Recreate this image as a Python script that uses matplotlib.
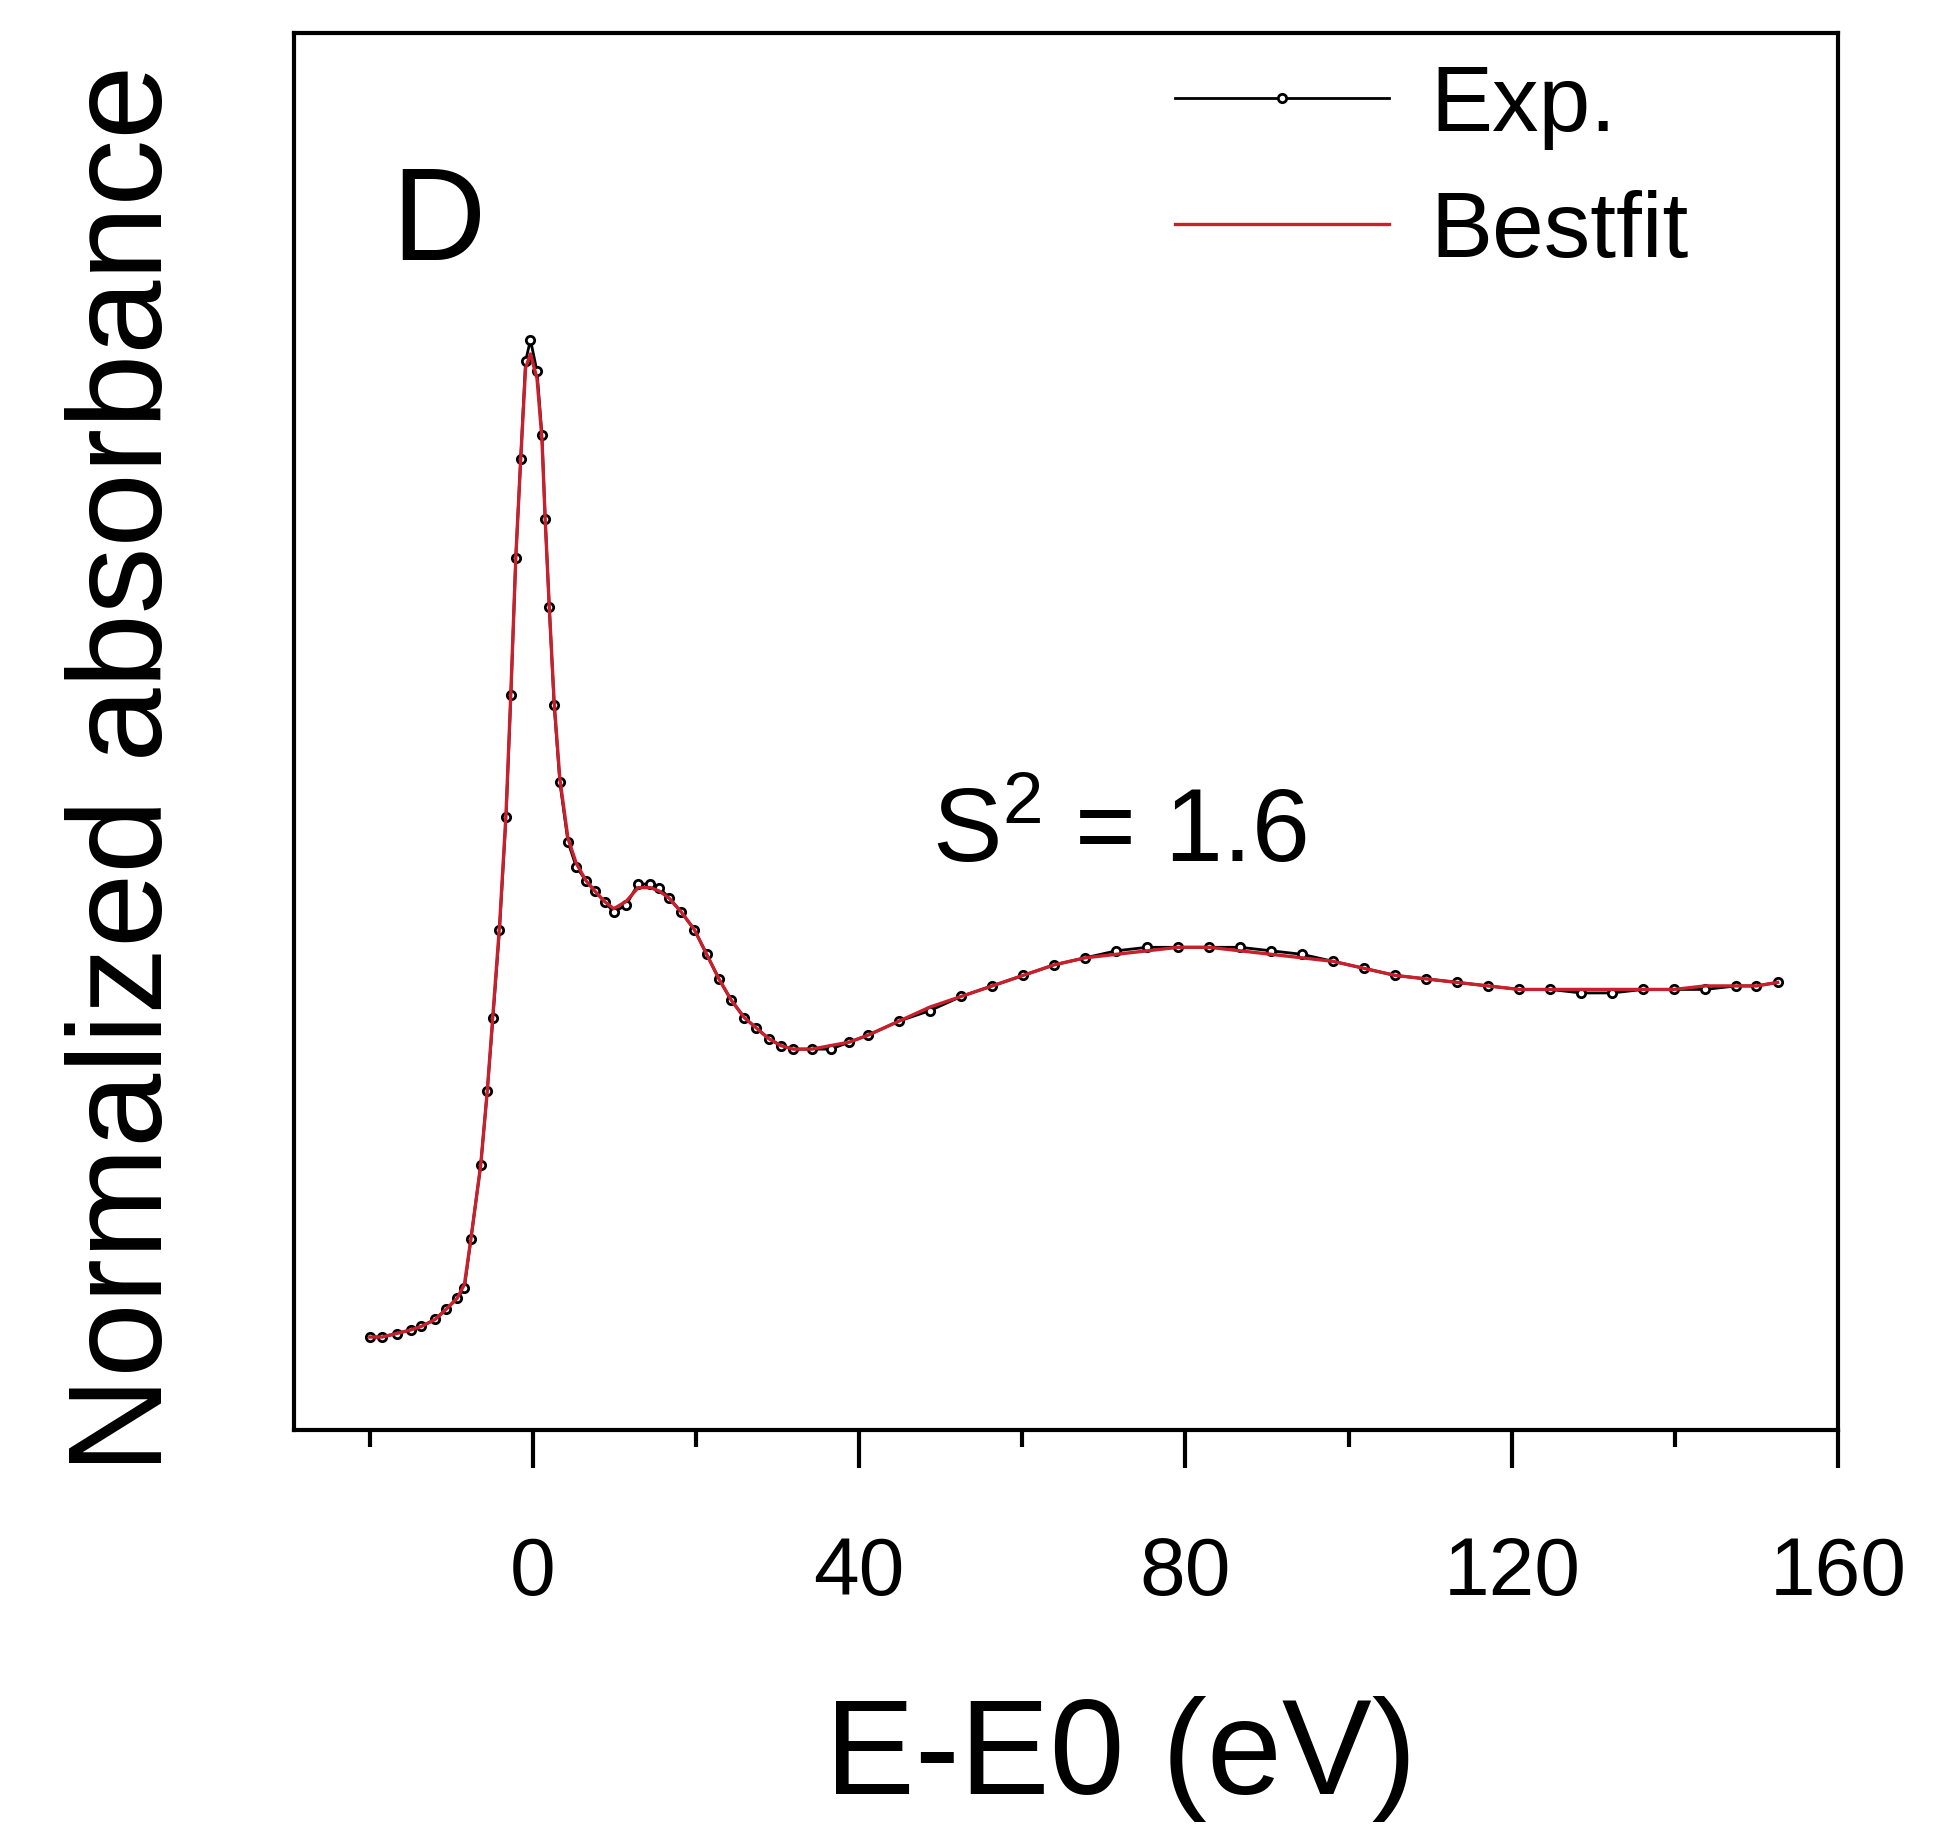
import numpy as np
import matplotlib.pyplot as plt

plt.rcParams['font.family'] = ['Liberation Sans', 'DejaVu Sans']
plt.rcParams['mathtext.fontset'] = 'custom'
plt.rcParams['mathtext.rm'] = 'Liberation Sans'
plt.rcParams['mathtext.it'] = 'Liberation Sans'

# energy relative to edge (eV) and normalized absorbance
energy = [-20, -18.5, -16.7, -15, -13.7, -12, -10.6, -9.3, -8.4, -7.6, -6.4, -5.6,
          -4.9, -4.1, -3.3, -2.7, -2.1, -1.5, -0.9, -0.3, 0.5, 1.1, 1.5, 2.0,
          2.6, 3.3, 4.3, 5.3, 6.5, 7.6, 8.8, 9.9, 11.4, 12.9, 14.4, 15.5, 16.7,
          18.2, 19.8, 21.3, 22.8, 24.3, 25.9, 27.4, 28.9, 30.4, 31.9, 34.2,
          36.5, 38.8, 41.1, 44.9, 48.7, 52.5, 56.3, 60.1, 63.9, 67.7, 71.5,
          75.3, 79.1, 82.9, 86.7, 90.5, 94.3, 98.1, 101.9, 105.7, 109.5, 113.3,
          117.1, 120.9, 124.7, 128.5, 132.3, 136.1, 139.9, 143.7, 147.5, 150.0,
          152.6]
exp_abs = [0.00, 0.00, 0.01, 0.02, 0.03, 0.05, 0.08, 0.11, 0.14, 0.28, 0.49, 0.70,
           0.91, 1.16, 1.48, 1.83, 2.22, 2.50, 2.78, 2.84, 2.75, 2.57, 2.33, 2.08,
           1.80, 1.58, 1.41, 1.34, 1.30, 1.27, 1.24, 1.21, 1.23, 1.29, 1.29, 1.28,
           1.25, 1.21, 1.16, 1.09, 1.02, 0.96, 0.91, 0.88, 0.85, 0.83, 0.82, 0.82,
           0.82, 0.84, 0.86, 0.90, 0.93, 0.97, 1.00, 1.03, 1.06, 1.08, 1.10,
           1.11, 1.11, 1.11, 1.11, 1.10, 1.09, 1.07, 1.05, 1.03, 1.02, 1.01,
           1.00, 0.99, 0.99, 0.98, 0.98, 0.99, 0.99, 0.99, 1.00, 1.00, 1.01]
fit_abs = [0.00, 0.00, 0.01, 0.02, 0.03, 0.05, 0.08, 0.11, 0.15, 0.28, 0.49, 0.70,
           0.92, 1.17, 1.49, 1.84, 2.22, 2.50, 2.76, 2.80, 2.73, 2.56, 2.33, 2.08,
           1.81, 1.59, 1.42, 1.35, 1.30, 1.27, 1.24, 1.22, 1.24, 1.28, 1.28, 1.27,
           1.25, 1.21, 1.16, 1.09, 1.02, 0.96, 0.91, 0.88, 0.85, 0.83, 0.82, 0.82,
           0.83, 0.84, 0.86, 0.90, 0.94, 0.97, 1.00, 1.03, 1.06, 1.08, 1.09,
           1.10, 1.11, 1.11, 1.10, 1.09, 1.08, 1.07, 1.05, 1.03, 1.02, 1.01,
           1.00, 0.99, 0.99, 0.99, 0.99, 0.99, 0.99, 1.00, 1.00, 1.00, 1.01]

xticks_major = [0, 40, 80, 120, 160]
xticks_minor = [-20, 20, 60, 100, 140]

fig = plt.figure(figsize=(19.44, 18.25), dpi=100)
ax = fig.add_axes([0.1512, 0.2164, 0.7943, 0.7655])

ax.plot(energy, exp_abs, color='black', lw=2, marker='o', ms=6,
        mfc='white', mec='black', mew=2, label='Exp.', zorder=2)
ax.plot(energy, fit_abs, color='#c8202c', lw=2.4, label='Bestfit', zorder=3)

ax.set_xlim(-29.3, 160)
ax.set_ylim(-0.265, 3.714)

ax.set_xticks(xticks_major)
ax.set_xticks(xticks_minor, minor=True)
ax.set_yticks([])
ax.tick_params(axis='x', which='major', direction='out', length=27, width=3,
               labelsize=59, pad=49)
ax.tick_params(axis='x', which='minor', direction='out', length=12, width=3)
for s in ax.spines.values():
    s.set_linewidth(3)

ax.set_xlabel('E-E0 (eV)', fontsize=97)
ax.set_ylabel('Normalized absorbance', fontsize=96)
ax.xaxis.set_label_coords(0.5356, -0.19)
ax.yaxis.set_label_coords(-0.0674, 0.473)

fig.text(391 / 1944, 1 - 260 / 1825, 'D', fontsize=94, va='baseline')
fig.text(932 / 1944, 1 - 862 / 1825, 'S$^2$ = 1.6', fontsize=75, va='baseline')

ax.legend(loc='upper left', bbox_to_anchor=(1128 / 1944, 1 - 17 / 1825),
          bbox_transform=fig.transFigure, frameon=False, fontsize=67,
          handlelength=2.3, handletextpad=0.45, labelspacing=0.43, borderpad=0)

fig.savefig('out.png', dpi=100)
